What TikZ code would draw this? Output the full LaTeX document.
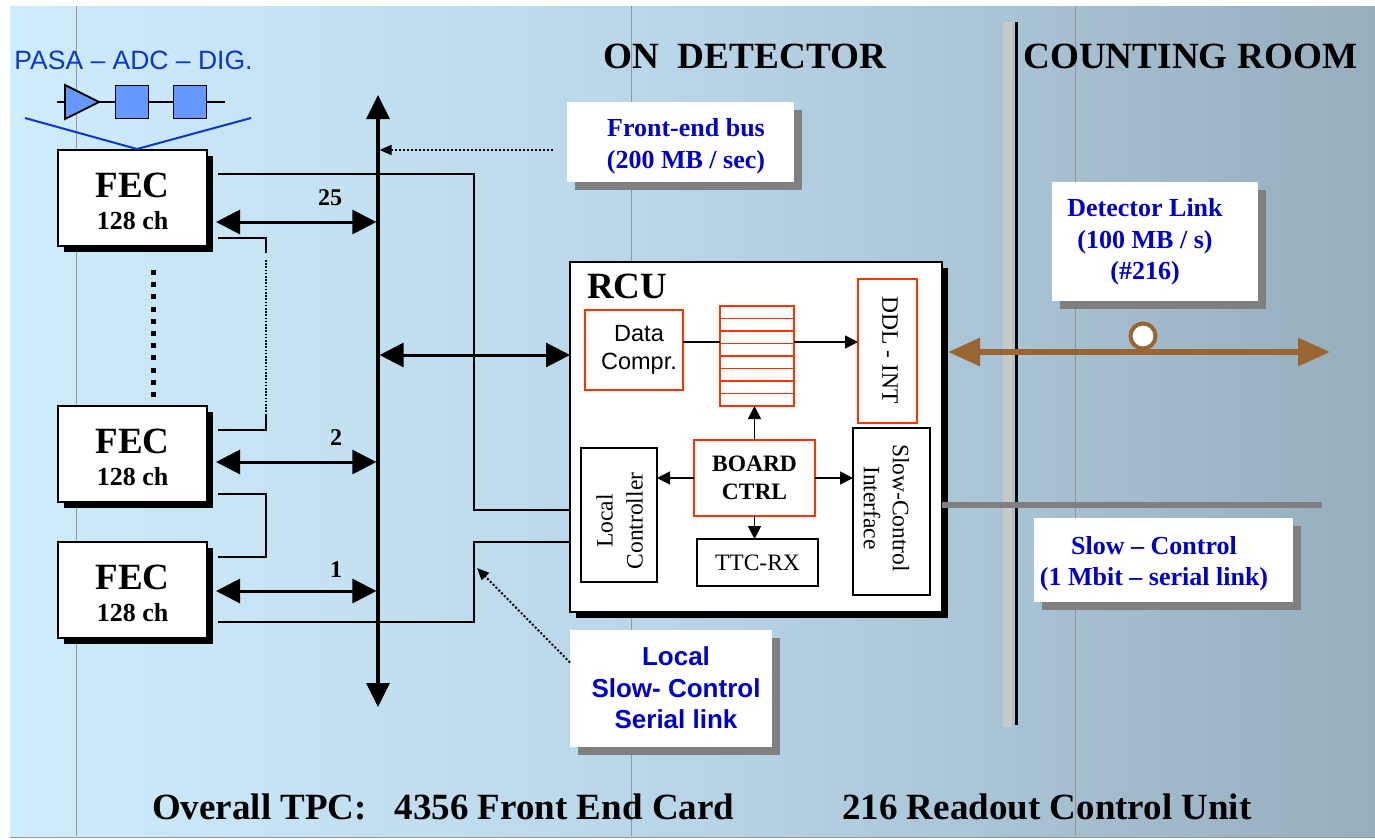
\documentclass[tikz,border=0pt]{standalone}
\usepackage{fontspec}
\setmainfont{Liberation Serif}
\newfontfamily\arialf{Liberation Sans}
\usetikzlibrary{arrows.meta,shadows,calc}
\newcommand\myfs[2]{\fontsize{#1}{#2}\selectfont}
\definecolor{bgL}{RGB}{206,236,251}
\definecolor{bgM}{RGB}{184,213,231}
\definecolor{bgR}{RGB}{150,174,190}
\definecolor{labblue}{RGB}{0,0,204}
\definecolor{pasablue}{RGB}{10,55,205}
\definecolor{chainfill}{RGB}{102,153,255}
\definecolor{rcured}{RGB}{255,51,0}
\definecolor{linkbrown}{RGB}{153,102,51}
\definecolor{shgray}{RGB}{128,128,128}
\definecolor{sepgray}{RGB}{200,200,200}
\definecolor{gridgray}{RGB}{150,150,150}
\begin{document}
\begin{tikzpicture}[x=1pt,y=-1pt,
  fecbox/.style={draw=black, line width=1.5pt, fill=white, minimum width=149pt, minimum height=96pt,
    inner sep=0pt, outer sep=0pt, drop shadow={shadow xshift=6pt, shadow yshift=-6pt, fill=black, opacity=1}},
  labbox/.style={fill=white, inner sep=0pt, outer sep=0pt,
    drop shadow={shadow xshift=8pt, shadow yshift=-8pt, fill=shgray, opacity=1}},
  rcubox/.style={draw=black, line width=1.8pt, fill=white, inner sep=0pt, outer sep=0pt,
    drop shadow={shadow xshift=6pt, shadow yshift=-6pt, fill=black, opacity=1}},
  redbox/.style={draw=rcured, line width=2pt, fill=white, inner sep=0pt, outer sep=0pt},
  blkbox/.style={draw=black, line width=1.5pt, fill=white, inner sep=0pt, outer sep=0pt},
  chainbox/.style={draw=black, line width=1.8pt, fill=chainfill, minimum size=33pt, inner sep=0pt, outer sep=0pt},
  headtxt/.style={font=\myfs{37}{40}\bfseries, inner sep=0pt},
  fectxt/.style={font=\myfs{37}{40}\bfseries, inner sep=0pt},
  chtxt/.style={font=\myfs{26}{30}\bfseries, inner sep=0pt},
  numtxt/.style={font=\myfs{24}{28}\bfseries, inner sep=0pt},
  labtxt/.style={font=\myfs{26}{31.5}\bfseries, text=labblue, align=center, inner sep=0pt},
  labsans/.style={font=\arialf\myfs{26}{31.5}\bfseries, text=labblue, align=center, inner sep=0pt},
  intxt/.style={font=\myfs{23.5}{28}, align=center, inner sep=0pt},
  wire/.style={line width=2pt},
  busline/.style={line width=3.2pt, {Triangle[length=24pt,width=23pt]}-{Triangle[length=24pt,width=23pt]}},
  bigdbl/.style={line width=3pt, {Triangle[length=24pt,width=24pt]}-{Triangle[length=24pt,width=24pt]}},
  smallarr/.style={line width=1.6pt, -{Triangle[length=13pt,width=13pt]}},
  dotarr/.style={line width=2pt, dash pattern=on 2pt off 2pt, -{Triangle[length=12pt,width=10pt]}}
]
% canvas and background
\useasboundingbox (0,0) rectangle (1375,839);
\fill[white] (0,0) rectangle (1375,839);
\shade[left color=bgL, right color=bgR, middle color=bgM] (10,6) rectangle (1375,836);
\draw[gridgray, line width=1pt] (10,837.5) -- (1375,837.5);
\foreach \gx in {76,631,1075} \draw[gridgray, line width=1pt] (\gx,6) -- (\gx,836);

% headings
\node[headtxt, anchor=base west] (onDet) at (603,68) {\resizebox{283pt}{\height}{ON\ \ DETECTOR}};
\node[headtxt, anchor=base west] (cntRoom) at (1023,68) {\resizebox{334pt}{\height}{COUNTING ROOM}};
\node[headtxt, anchor=base west] (tpcA) at (152,819) {Overall TPC:\ \ \ 4356 Front End Card};
\node[headtxt, anchor=base west] (tpcB) at (842,819) {216 Readout Control Unit};

% separator
\fill[sepgray] (1003,22) rectangle (1012,727);
\draw[line width=3pt] (1016,22) -- (1016,725);

% PASA chain
\node[font=\arialf\myfs{26.5}{30}, text=pasablue, anchor=base, inner sep=0pt] (pasa) at (133.5,69) {PASA – ADC – DIG.};
\draw[line width=1.8pt] (57,102) -- (225,102);
\filldraw[fill=chainfill, line width=1.8pt, line join=miter] (65,85) -- (99,102) -- (65,119) -- cycle;
\node[chainbox] (adcbox) at (132,102) {};
\node[chainbox] (digbox) at (190,102) {};

% FEC boxes
\node[fecbox] (fec1) at (132.5,198) {};
\node[fecbox] (fec2) at (132.5,454) {};
\node[fecbox] (fec3) at (132.5,590) {};
\foreach \f in {fec1,fec2,fec3}{
  \node[fectxt, anchor=base] at ($(\f.center)+(0,-1)$) {FEC};
  \node[chtxt, anchor=base] at ($(\f.center)+(0,31)$) {128 ch};
}
\draw[pasablue, line width=2pt] (25,118) -- ($(fec1.north)+(4.5,-1)$) -- (251,118);

% dotted continuation between FEC 1 and FEC 2
\draw[line width=5pt, dash pattern=on 5pt off 7.2pt] ($(fec1.south)+(20.5,24)$) -- ($(fec2.north)+(20.5,-9)$);

% bus
\coordinate (busT) at (378,95);
\coordinate (busB) at (378,707);
\draw[busline] (busB) -- (busT);

% RCU
\node[rcubox, minimum width=372pt, minimum height=350pt] (rcu) at (756,437) {};
\node[headtxt, anchor=base west] (rcut) at (587,298) {RCU};
\node[redbox, minimum width=98pt, minimum height=80pt, intxt, font=\arialf\myfs{23.5}{28}] (dc) at (634,350) {\hspace*{10pt}Data\\\hspace*{10pt}Compr.};
\node[redbox, line width=1.4pt, minimum width=74pt, minimum height=100pt] (fifo) at (757,356) {};
\foreach \i in {1,...,7}
  \draw[rcured, line width=1.3pt] ($(fifo.north west)+(0,12.5*\i)$) -- ($(fifo.north east)+(0,12.5*\i)$);
\node[redbox, minimum width=59pt, minimum height=144pt] (ddl) at (887.5,351) {};
\node[intxt, rotate=-90] (ddlt) at (890,350) {DDL - INT};
\node[redbox, minimum width=121pt, minimum height=76pt, intxt, font=\myfs{23.5}{28}\bfseries] (bc) at (754.5,478) {BOARD\\CTRL};
\node[blkbox, minimum width=76pt, minimum height=134pt] (lc) at (619,515) {};
\node[intxt, rotate=90, font=\myfs{23.5}{30}] (lct) at (619.5,521) {Local\\Controller};
\node[blkbox, minimum width=121pt, minimum height=47pt, intxt] (ttc) at (757.5,562.5) {TTC-RX};
\node[blkbox, minimum width=77pt, minimum height=167pt] (sci) at (891.5,511.5) {};
\node[intxt, rotate=-90, font=\myfs{23.5}{29}] (scit) at (886.5,508) {Slow-Control\\Interface};

% RCU internal connections
\coordinate (dcout) at ($(dc.east)+(0,-8)$);
\draw[line width=1.6pt] (dcout) -- (dcout -| fifo.west);
\draw[smallarr] (dcout -| fifo.east) -- (dcout -| ddl.west);
\draw[smallarr] (bc.north) -- (bc.north |- fifo.south);
\draw[smallarr] (bc.west) -- (bc.west -| lc.east);
\draw[smallarr] (bc.east) -- (bc.east -| sci.west);
\draw[smallarr] (bc.south) -- (bc.south |- ttc.north);

% FEC <-> bus arrows and labels
\coordinate (a1) at ($(fec1.east)+(9,24)$);
\coordinate (a2) at ($(fec2.east)+(9,8)$);
\coordinate (a3) at ($(fec3.east)+(9,1)$);
\foreach \a in {a1,a2,a3} \draw[bigdbl, shorten >=1.6pt] (\a) -- (\a -| busT);
\node[numtxt, anchor=base] (n25) at (330,205) {25};
\node[numtxt, anchor=base] (n2) at (336,445) {2};
\node[numtxt, anchor=base] (n1) at (336,577) {1};

% bus <-> RCU
\coordinate (rin) at ($(rcu.west)+(0,-82)$);
\draw[bigdbl, shorten <=1.6pt] (rin -| busT) -- (rin);

% serial slow-control wires
\draw[wire] ($(fec1.east)+(11,-24)$) -| ($(rcu.west)+(-96,73)$) -- ($(rcu.west)+(0,73)$);
\draw[wire] ($(fec3.east)+(11,32)$) -| ($(rcu.west)+(-96,105)$) -- ($(rcu.west)+(0,105)$);
\draw[wire] ($(fec1.east)+(11,40)$) -| ($(fec1.east)+(59,55)$);
\draw[line width=1.6pt, dash pattern=on 1.6pt off 1.6pt] ($(fec1.east)+(59,62)$) -- ($(fec2.east)+(59,-39)$);
\draw[wire] ($(fec2.east)+(59,-39)$) |- ($(fec2.east)+(11,-24)$);
\draw[wire] ($(fec2.east)+(11,40)$) -| ($(fec3.east)+(59,-33)$) -- ($(fec3.east)+(11,-33)$);

% label boxes
\node[labbox, minimum width=227pt, minimum height=80pt] (feb) at (680.5,142) {};
\node[labtxt] (febt) at (686,146) {Front-end bus\\(200 MB / sec)};
\node[labbox, minimum width=206pt, minimum height=119pt] (dlb) at (1155,241.5) {};
\node[labtxt] (dlbt) at (1145,242) {Detector Link\\(100 MB / s)\\(\#216)};
\node[labbox, minimum width=259pt, minimum height=84pt] (scb) at (1163.5,560) {};
\node[labtxt] (scbt) at (1154,563.5) {Slow – Control\\(1 Mbit – serial link)};
\node[labbox, minimum width=202pt, minimum height=117pt] (lsb) at (671,688.5) {};
\node[labsans] (lsbt) at (676,688) {Local\\Slow- Control\\Serial link};

% dotted pointers
\coordinate (febout) at ($(feb.west)+(-14,8)$);
\draw[dotarr, shorten >=1.6pt] (febout) -- (febout -| busT);
\coordinate (lsbout) at ($(lsb.west)+(0,-26)$);
\coordinate (lstip) at ($(rcu.west)+(-93,131)$);
\draw[dotarr] (lsbout) -- (lstip);

% detector link
\coordinate (rcuE) at ($(rcu.east)+(6,0)$);
\coordinate (dlR) at (1330,352);
\draw[linkbrown, line width=6pt, {Triangle[length=32pt,width=27pt]}-{Triangle[length=32pt,width=27pt]}] (rcuE |- dlR) -- (dlR);
\node[circle, draw=linkbrown, line width=4pt, fill=white, minimum size=25pt, inner sep=0pt] (dlc) at (1143,336) {};

% slow control link
\coordinate (scR) at (1322,505);
\draw[shgray, line width=6pt] (rcu.east |- scR) -- (scR);
\end{tikzpicture}
\end{document}
